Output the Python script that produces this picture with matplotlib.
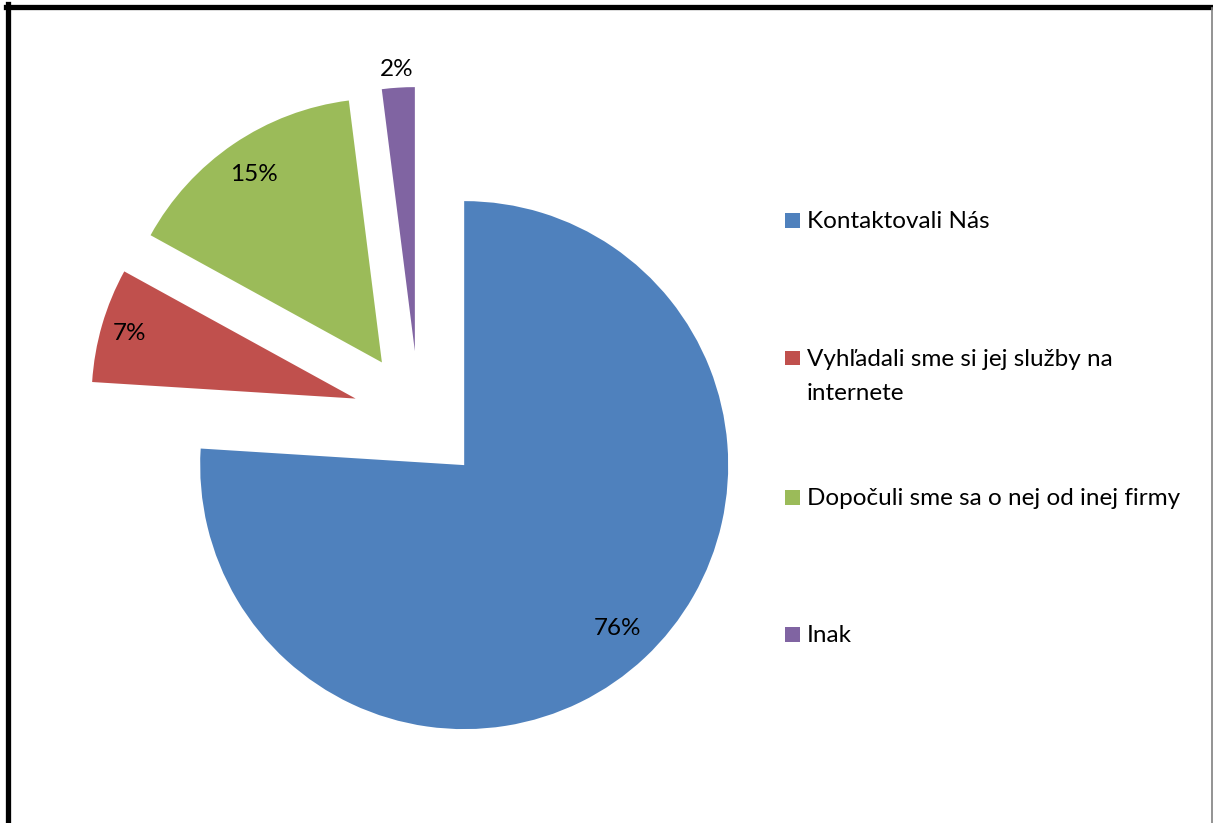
import numpy as np
import matplotlib.pyplot as plt
from matplotlib.lines import Line2D
from matplotlib.patches import Rectangle

plt.rcParams['font.family'] = ['Lato', 'DejaVu Sans']

# Odpovede na otázku, ako sa o firme dozvedeli
kategorie = ['Kontaktovali Nás',
             'Vyhľadali sme si jej služby na\ninternete',
             'Dopočuli sme sa o nej od inej firmy',
             'Inak']
podiely = [76, 7, 15, 2]
farby = ['#4F81BD', '#C0504D', '#9BBB59', '#8064A2']

W, H = 1213, 823
fig = plt.figure(figsize=(W / 100, H / 100), dpi=100)

# stred koláča a polomer v pixeloch
cx, cy, r_px = 419, 417, 264
half = 400
ax = fig.add_axes([(cx - half) / W, (H - cy - half) / H, 2 * half / W, 2 * half / H])
lim = half / r_px

wedges, _ = ax.pie(podiely, colors=farby, startangle=90, counterclock=False,
                   explode=[0.25] * 4, radius=1.0,
                   wedgeprops=dict(linewidth=0))
ax.set_xlim(-lim, lim)
ax.set_ylim(-lim, lim)
ax.set_aspect('equal')
ax.axis('off')

# percentá v jednotlivých výsekoch
vzdialenosti = [0.85, 0.89, 0.86, 1.07]
for w, p, d in zip(wedges, podiely, vzdialenosti):
    t = np.deg2rad((w.theta1 + w.theta2) / 2)
    x = w.center[0] + d * w.r * np.cos(t)
    y = w.center[1] + d * w.r * np.sin(t)
    ax.text(x, y, f'{p}%', ha='center', va='center', fontsize=17.5, color='black')

# legenda: štvorček a text, prvý riadok zarovnaný so štvorčekom
leg_y = [220.5, 358, 497, 634]
riadok = 34  # rozostup riadkov v pixeloch
for y, lab, c in zip(leg_y, kategorie, farby):
    fig.add_artist(Rectangle((785 / W, 1 - (y + 7.5) / H), 15 / W, 15 / H,
                             facecolor=c, edgecolor='none',
                             transform=fig.transFigure))
    for i, cast in enumerate(lab.split('\n')):
        fig.text(807 / W, 1 - (y + 8 + i * riadok) / H, cast, ha='left',
                 va='baseline', fontsize=17.5, color='black')

# rám grafu
fig.add_artist(Line2D([7.5 / W, 7.5 / W], [0, 1 - 4 / H], color='black',
                      linewidth=3.8, transform=fig.transFigure))
fig.add_artist(Line2D([5.5 / W, 1], [1 - 6.5 / H, 1 - 6.5 / H], color='black',
                      linewidth=3.8, transform=fig.transFigure))
fig.add_artist(Line2D([1211.5 / W, 1211.5 / W], [0, 1 - 8 / H], color='#808080',
                      linewidth=1.2, transform=fig.transFigure))

fig.savefig('out.png', dpi=100, facecolor='white')
